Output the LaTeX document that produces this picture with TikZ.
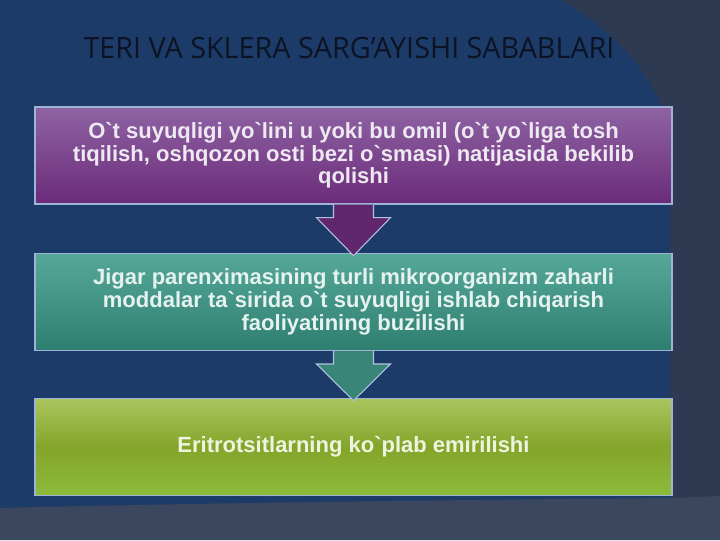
\documentclass[tikz,border=0pt]{standalone}
\usepackage{fontspec}
\setmainfont{Liberation Sans}[Ligatures=TeXOff]
\newfontfamily\titlefont[FakeStretch=0.98]{Open Sans}
\usetikzlibrary{positioning,calc}

\definecolor{navy}{HTML}{1D3B69}
\definecolor{slate}{HTML}{2D3A52}
\definecolor{slatelow}{HTML}{3A475E}
\definecolor{titleink}{HTML}{0C1424}
\definecolor{rim}{HTML}{9DB3D8}
\definecolor{plumtop}{HTML}{8E63A3}
\definecolor{plumbot}{HTML}{6B2B7A}
\definecolor{tealtop}{HTML}{55A898}
\definecolor{tealbot}{HTML}{2F7F70}
\definecolor{limetop}{HTML}{AAC55E}
\definecolor{limemid}{HTML}{84A52A}
\definecolor{limebot}{HTML}{8CBB3A}

% arrow between two boxes
\newcommand{\blockarrow}[3]{%
  \fill[#3] ($(#1.south)+(-20,0)$) -- ($(#1.south)+(-20,13)$) -- ($(#1.south)+(-37,13)$)
    -- ($(#2.north)+(0,3)$) -- ($(#1.south)+(37,13)$) -- ($(#1.south)+(20,13)$)
    -- ($(#1.south)+(20,0)$) -- cycle;
  \draw[arrowrim] ($(#1.south)+(-20,0)$) -- ($(#1.south)+(-20,13)$) -- ($(#1.south)+(-37,13)$)
    -- ($(#2.north)+(0,3)$) -- ($(#1.south)+(37,13)$) -- ($(#1.south)+(20,13)$)
    -- ($(#1.south)+(20,0)$);
}

\tikzset{
  causebox/.style={draw=rim, line width=1pt, minimum width=477.75pt, minimum height=72.75pt,
    inner sep=0pt, align=center, font=\bfseries\fontsize{16.5}{16.9}\selectfont},
  arrowrim/.style={draw=rim!80, line width=0.8pt, line join=miter},
}

\begin{document}
\begin{tikzpicture}[x=0.75pt, y=-0.75pt]

% background
\fill[slate] (0,0) rectangle (720,540);
\fill[navy] (0,0) -- (560,0) .. controls (625,35) and (670,95) .. (670,150)
  -- (670,498) .. controls (450,500) and (200,503) .. (0,508) -- cycle;
\fill[slatelow] (0,508) .. controls (200,503) and (450,500) .. (670,498)
  -- (720,496) -- (720,540) -- (0,540) -- cycle;

% title
\node[text=titleink, font=\titlefont\fontsize{22}{24}\selectfont] (title) at (349,48)
  {TERI VA SKLERA SARG’AYISHI SABABLARI};

% boxes
\node[causebox, top color=plumtop, bottom color=plumbot, text=white!85!plumtop] (bile) at (353.5,155.5)
  {O`t suyuqligi yo`lini u yoki bu omil (o`t yo`liga tosh\\
   tiqilish, oshqozon osti bezi o`smasi) natijasida bekilib\\
   qolishi};
\node[causebox, below=36pt of bile, top color=tealtop, bottom color=tealbot, text=white!85!tealtop] (liver)
  {Jigar parenximasining turli mikroorganizm zaharli\\
   moddalar ta`sirida o`t suyuqligi ishlab chiqarish\\
   faoliyatining buzilishi};
\node[causebox, below=35pt of liver, top color=limetop, bottom color=limebot, middle color=limemid,
  text=white!80!limetop] (blood)
  {Eritrotsitlarning ko`plab emirilishi};

% arrows
\blockarrow{bile}{liver}{plumbot!90!black}
\blockarrow{liver}{blood}{tealbot!95!white}

\end{tikzpicture}
\end{document}
